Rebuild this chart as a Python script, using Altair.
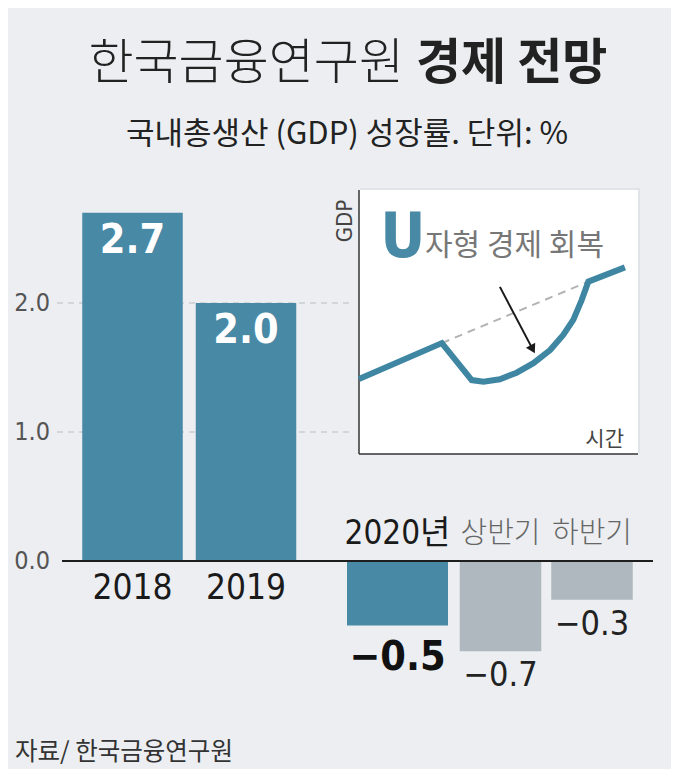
import altair as alt
import pandas as pd

# ---------------- data ----------------
TITLE_LIGHT = "한국금융연구원"
TITLE_BOLD = "경제 전망"
SUBTITLE = "국내총생산 (GDP) 성장률. 단위: %"
SOURCE = "자료/ 한국금융연구원"
INSET_TITLE_U = "U"
INSET_TITLE_REST = "자형 경제 회복"
INSET_Y_LABEL = "GDP"
INSET_X_LABEL = "시간"

early_years = ["2018", "2019"]
early_growth = [2.7, 2.0]
year_2020 = ["2020년"]
growth_2020 = [-0.5]
halves = ["상반기", "하반기"]
half_growth = [-0.7, -0.3]
tick_values = [0.0, 1.0, 2.0]
grid_values = [1.0, 2.0]

# inset schematic (time vs GDP, arbitrary 0-10 units)
inset_time = [0.0, 2.97, 4.04, 4.46, 5.05, 5.65, 6.25, 6.85, 7.32, 7.68, 7.98, 8.22, 9.53]
inset_gdp = [2.84, 4.20, 2.80, 2.74, 2.83, 3.08, 3.44, 3.94, 4.51, 5.08, 5.83, 6.53, 7.07]
trend_time = [2.97, 8.22]
trend_gdp = [4.20, 6.53]
arrow_time = [5.05, 6.20]
arrow_gdp = [6.33, 4.02]

# ---------------- styles ----------------
TEAL = "#4889a6"
GRAY_BAR = "#aeb8be"
BG = "#eceef1"
KR = "Noto Sans CJK KR"
NUM = "Liberation Sans Narrow, DejaVu Sans Condensed, Noto Sans CJK KR"

df_early = pd.DataFrame({"cat": early_years, "v": early_growth})
df_2020 = pd.DataFrame({"cat": year_2020, "v": growth_2020})
df_half = pd.DataFrame({"cat": halves, "v": half_growth})
df_ticks = pd.DataFrame({"v": tick_values})
df_grid = pd.DataFrame({"v": grid_values})
df_curve = pd.DataFrame({"t": inset_time, "g": inset_gdp})
df_trend = pd.DataFrame({"t": trend_time, "g": trend_gdp})
df_arrow = pd.DataFrame({"t": [arrow_time[0]], "g": [arrow_gdp[0]],
                         "t2": [arrow_time[1]], "g2": [arrow_gdp[1]]})
df_head = pd.DataFrame({"t": [arrow_time[1]], "g": [arrow_gdp[1]]})

y_main = alt.Scale(domain=[-1, 3], range=[682, 166], nice=False, zero=False)
x_early = alt.Scale(domain=early_years, range=[67.75, 294.75], paddingInner=0.1145, paddingOuter=0.05725)
x_2020 = alt.Scale(domain=year_2020, range=[339, 440], paddingInner=0, paddingOuter=0)
x_half = alt.Scale(domain=halves, range=[446.75, 629.75], paddingInner=0.109, paddingOuter=0.0546)
ix = alt.Scale(domain=[0, 10], range=[351, 630], nice=False, zero=False)
iy = alt.Scale(domain=[0, 10], range=[446, 182], nice=False, zero=False)


def text_at(txt, x, y, size, font, color, align="center", baseline="alphabetic", weight="normal", angle=0):
    return alt.Chart(pd.DataFrame({"label": [txt]})).mark_text(
        align=align, baseline=baseline, fontSize=size, font=font, fontWeight=weight,
        color=color, angle=angle
    ).encode(x=alt.value(x), y=alt.value(y), text="label:N")


# grid lines
grid = alt.Chart(df_grid).mark_rule(color="#b9bdc2", strokeWidth=1, strokeDash=[6, 5]).encode(
    y=alt.Y("v:Q", scale=y_main, axis=None), x=alt.value(49), x2=alt.value(342))

ticks = alt.Chart(df_ticks).mark_text(align="right", baseline="middle", fontSize=25, font=NUM, color="#555").encode(
    y=alt.Y("v:Q", scale=y_main, axis=None), x=alt.value(42), text=alt.Text("v:Q", format=".1f"))

def bars(df, xs, color, width):
    return alt.Chart(df).mark_bar(color=color, width=width).encode(
        x=alt.X("cat:N", scale=xs, axis=None, sort=None),
        y=alt.Y("v:Q", scale=y_main, axis=None))

bars_early = bars(df_early, x_early, TEAL, 100.5)
bars_2020 = bars(df_2020, x_2020, TEAL, 101)
bars_half = bars(df_half, x_half, GRAY_BAR, 81.5)

zero = alt.Chart(df_ticks.head(1)).mark_rule(color="#1e1e1e", strokeWidth=2).encode(
    y=alt.Y("v:Q", scale=y_main, axis=None), x=alt.value(54), x2=alt.value(645))

def cat_labels(df, xs, dy, size, font, color, weight="normal"):
    return alt.Chart(df).mark_text(baseline="middle", dy=dy, fontSize=size, font=font,
                                   color=color, fontWeight=weight).encode(
        x=alt.X("cat:N", scale=xs, axis=None, sort=None),
        y=alt.Y(datum=0, type="quantitative", scale=y_main, axis=None),
        text="cat:N")

def val_labels(df, xs, dy, size, color, weight):
    return alt.Chart(df).mark_text(baseline="middle", dy=dy, fontSize=size, font=NUM,
                                   color=color, fontWeight=weight).encode(
        x=alt.X("cat:N", scale=xs, axis=None, sort=None),
        y=alt.Y("v:Q", scale=y_main, axis=None),
        text=alt.Text("v:Q", format=".1f"))

lab_early = cat_labels(df_early, x_early, 27, 35, NUM, "#1a1a1a")
lab_2020 = cat_labels(df_2020, x_2020, -27, 33, NUM, "#1a1a1a")
lab_half = cat_labels(df_half, x_half, -27, 29, KR, "#666", weight=300)

val_early = val_labels(df_early, x_early, 28, 41, "white", "bold")
val_2020 = val_labels(df_2020, x_2020, 32, 41, "#111", "bold")
val_half = val_labels(df_half, x_half, 25, 34, "#222", "normal")

# inset
def ixd(v):
    return alt.X(datum=v, type="quantitative", scale=ix, axis=None)

def iyd(v):
    return alt.Y(datum=v, type="quantitative", scale=iy, axis=None)

one = pd.DataFrame({"k": [0]})
shadow = alt.Chart(one).mark_rect(color="#d7dadf", xOffset=3, yOffset=-3, stroke="#e0e3e7", strokeWidth=4).encode(
    x=ixd(0), x2=alt.X2(datum=10), y=iyd(0), y2=alt.Y2(datum=10))
panel = alt.Chart(one).mark_rect(color="white").encode(
    x=ixd(0), x2=alt.X2(datum=10), y=iyd(0), y2=alt.Y2(datum=10))
axis_left = alt.Chart(one).mark_rule(color="#333", strokeWidth=1.5).encode(
    x=ixd(0), y=iyd(0), y2=alt.Y2(datum=10))
axis_bottom = alt.Chart(one).mark_rule(color="#333", strokeWidth=1.5).encode(
    y=iyd(0), x=ixd(0), x2=alt.X2(datum=10))

trend = alt.Chart(df_trend).mark_line(color="#b3b3b3", strokeWidth=2, strokeDash=[8, 6]).encode(
    x=alt.X("t:Q", scale=ix, axis=None), y=alt.Y("g:Q", scale=iy, axis=None))
curve = alt.Chart(df_curve).mark_line(color="#3f86a3", strokeWidth=6, strokeJoin="miter").encode(
    x=alt.X("t:Q", scale=ix, axis=None), y=alt.Y("g:Q", scale=iy, axis=None))
arrow = alt.Chart(df_arrow).mark_rule(color="#1a1a1a", strokeWidth=2).encode(
    x=alt.X("t:Q", scale=ix, axis=None), y=alt.Y("g:Q", scale=iy, axis=None),
    x2="t2:Q", y2="g2:Q")
head = alt.Chart(df_head).mark_point(shape="triangle", filled=True, color="#1a1a1a", size=110,
                                     angle=152, opacity=1).encode(
    x=alt.X("t:Q", scale=ix, axis=None), y=alt.Y("g:Q", scale=iy, axis=None))

u_text = text_at(INSET_TITLE_U, 395, 249, 62, NUM, TEAL, weight="bold")
u_rest = text_at(INSET_TITLE_REST, 417, 247, 30, KR, "#777", align="left")
gdp_lab = text_at(INSET_Y_LABEL, 337, 213, 22, NUM, "#444", baseline="middle", angle=270)
time_lab = text_at(INSET_X_LABEL, 616, 438, 21, KR, "#444", align="right")

title_l = text_at(TITLE_LIGHT, 396, 71, 49, KR, "#222", align="right", weight=300)
title_b = text_at(TITLE_BOLD, 408, 71, 49, KR, "#222", align="left", weight="bold")
subtitle = text_at(SUBTITLE, 339, 136, 31, KR, "#222")
source = text_at(SOURCE, 7, 752, 24.5, KR, "#333", align="left")

chart = alt.layer(
    grid, bars_early, bars_2020, bars_half, zero,
    lab_early, lab_2020, lab_half, val_early, val_2020, val_half, ticks,
    shadow, panel, axis_left, axis_bottom, trend, curve, arrow, head,
    u_text, u_rest, gdp_lab, time_lab,
    title_l, title_b, subtitle, source,
).resolve_scale(x="independent", y="independent").properties(
    width=663, height=761, padding=0, autosize=alt.AutoSizeParams(type="none"),
    background=BG,
).configure_view(strokeWidth=0)

chart.save("out.html", embed_options={"renderer": "svg", "actions": False})
